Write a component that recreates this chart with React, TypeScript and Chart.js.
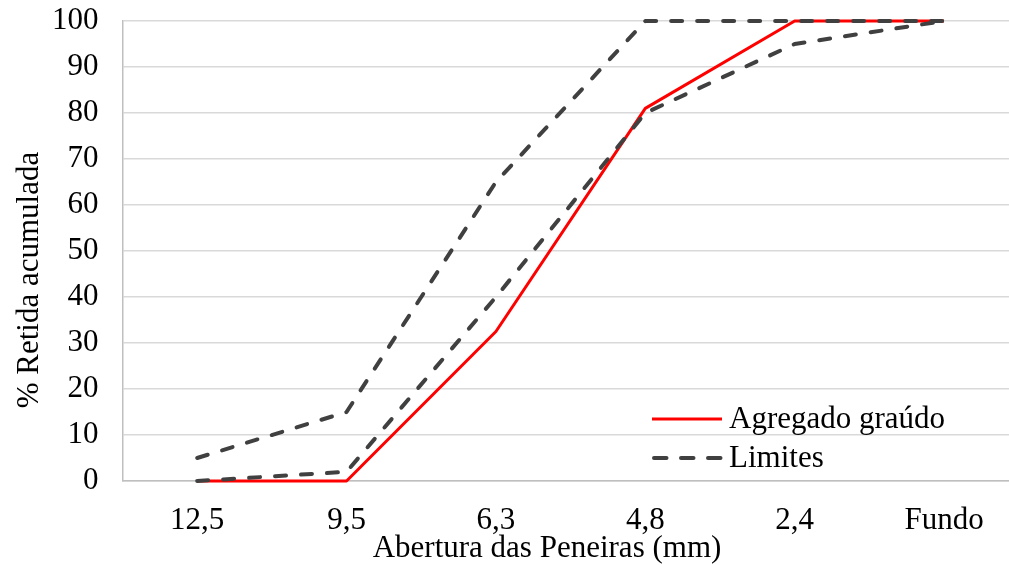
import React, { useEffect, useRef } from 'react';
import { Chart, registerables } from 'chart.js';

Chart.register(...registerables);

// ---- data ----
const sieveLabels = ['12,5', '9,5', '6,3', '4,8', '2,4', 'Fundo'];
const agregadoGraudo = [0, 0, 32.5, 81, 100, 100];
const limiteSuperior = [5, 15, 65, 100, 100, 100];
const limiteInferior = [0, 2, 40, 80, 95, 100];
const yTickValues = [0, 10, 20, 30, 40, 50, 60, 70, 80, 90, 100];

const seriesName = 'Agregado graúdo';
const limitsName = 'Limites';
const xTitle = 'Abertura das Peneiras (mm)';
const yTitle = '% Retida acumulada';

// ---- layout ----
const W = 1009;
const H = 565;
const FONT = "'Liberation Serif', 'Times New Roman', Times, serif";
const FS = 31;
const RED = '#ff0000';
const DARK = '#404040';
const DASH = [11, 15];

const toPoints = (vals: number[]) => vals.map((v, i) => ({ x: i, y: v }));

export default function App() {
  const ref = useRef<HTMLCanvasElement>(null);

  useEffect(() => {
    const canvas = ref.current;
    if (!canvas) return;

    const overlay = {
      id: 'overlay',
      afterDraw(chart: any) {
        const ctx = chart.ctx as CanvasRenderingContext2D;
        ctx.save();
        ctx.fillStyle = '#000';
        ctx.font = `${FS}px ${FONT}`;
        ctx.textAlign = 'center';
        ctx.textBaseline = 'middle';
        ctx.fillText(xTitle, 547, 549);
        ctx.save();
        ctx.translate(30, 280);
        ctx.rotate(-Math.PI / 2);
        ctx.fillText(yTitle, 0, 0);
        ctx.restore();

        // legend
        const lx0 = 652;
        const lx1 = 722;
        const tx = 729;
        const rows = [
          { y: 419, color: RED, width: 3, dash: [] as number[], cap: 'butt', text: seriesName },
          { y: 458, color: DARK, width: 4, dash: [12.5, 14.5], cap: 'round', text: limitsName },
        ];
        rows.forEach((r) => {
          ctx.save();
          ctx.strokeStyle = r.color;
          ctx.lineWidth = r.width;
          ctx.setLineDash(r.dash);
          ctx.lineCap = r.cap as CanvasLineCap;
          ctx.beginPath();
          ctx.moveTo(lx0 + (r.cap === 'round' ? 2 : 0), r.y);
          ctx.lineTo(lx1, r.y);
          ctx.stroke();
          ctx.restore();
          ctx.textAlign = 'left';
          ctx.textBaseline = 'middle';
          ctx.fillText(r.text, tx, r.y + 1);
        });
        ctx.restore();
      },
    };

    const lineBase = {
      pointRadius: 0,
      tension: 0,
      clip: false as any,
      borderJoinStyle: 'round',
    };

    const chart = new Chart(canvas, {
      type: 'line',
      data: {
        datasets: [
          {
            ...lineBase,
            label: seriesName,
            data: toPoints(agregadoGraudo),
            borderColor: RED,
            backgroundColor: RED,
            borderWidth: 3,
            order: 2,
          },
          {
            ...lineBase,
            label: limitsName,
            data: toPoints(limiteSuperior),
            borderColor: DARK,
            backgroundColor: DARK,
            borderWidth: 4,
            borderDash: DASH,
            borderCapStyle: 'round',
            order: 1,
          },
          {
            ...lineBase,
            label: limitsName + ' inf',
            data: toPoints(limiteInferior),
            borderColor: DARK,
            backgroundColor: DARK,
            borderWidth: 4,
            borderDash: DASH,
            borderCapStyle: 'round',
            order: 1,
          },
        ],
      },
      options: {
        animation: false,
        responsive: false,
        devicePixelRatio: 1,
        layout: { padding: { top: 21, right: 0, bottom: 0, left: 0 } },
        plugins: {
          legend: { display: false },
          tooltip: { enabled: false },
        },
        scales: {
          x: {
            type: 'linear',
            min: -0.5,
            max: 5.435,
            afterBuildTicks: (s: any) => {
              s.ticks = sieveLabels.map((_, i) => ({ value: i }));
            },
            afterFit: (s: any) => {
              s.height = 84;
              s.paddingLeft = 0;
              s.paddingRight = 0;
            },
            grid: { drawOnChartArea: false, drawTicks: false },
            border: { display: true, color: '#bfbfbf', width: 1.5 },
            ticks: {
              autoSkip: false,
              maxRotation: 0,
              minRotation: 0,
              padding: 21,
              color: '#000',
              font: { family: FONT, size: FS },
              callback: (v: any) => sieveLabels[v as number] ?? '',
            },
          },
          y: {
            type: 'linear',
            min: 0,
            max: 100,
            afterBuildTicks: (s: any) => {
              s.ticks = yTickValues.map((v) => ({ value: v }));
            },
            afterFit: (s: any) => {
              s.width = 122.5;
              s.paddingTop = 0;
              s.paddingBottom = 0;
            },
            grid: { color: '#d9d9d9', lineWidth: 1.5, drawTicks: false },
            border: { display: true, color: '#bfbfbf', width: 1.5 },
            ticks: {
              padding: 24,
              color: '#000',
              font: { family: FONT, size: FS },
              callback: (v: any) => String(v),
            },
          },
        },
      },
      plugins: [overlay],
    } as any);

    return () => chart.destroy();
  }, []);

  return (
    <div
      style={{
        position: 'fixed',
        left: 0,
        top: 0,
        width: W,
        height: H,
        overflow: 'hidden',
        background: '#fff',
      }}
    >
      <canvas ref={ref} width={W} height={H} style={{ display: 'block', width: W, height: H }} />
    </div>
  );
}
